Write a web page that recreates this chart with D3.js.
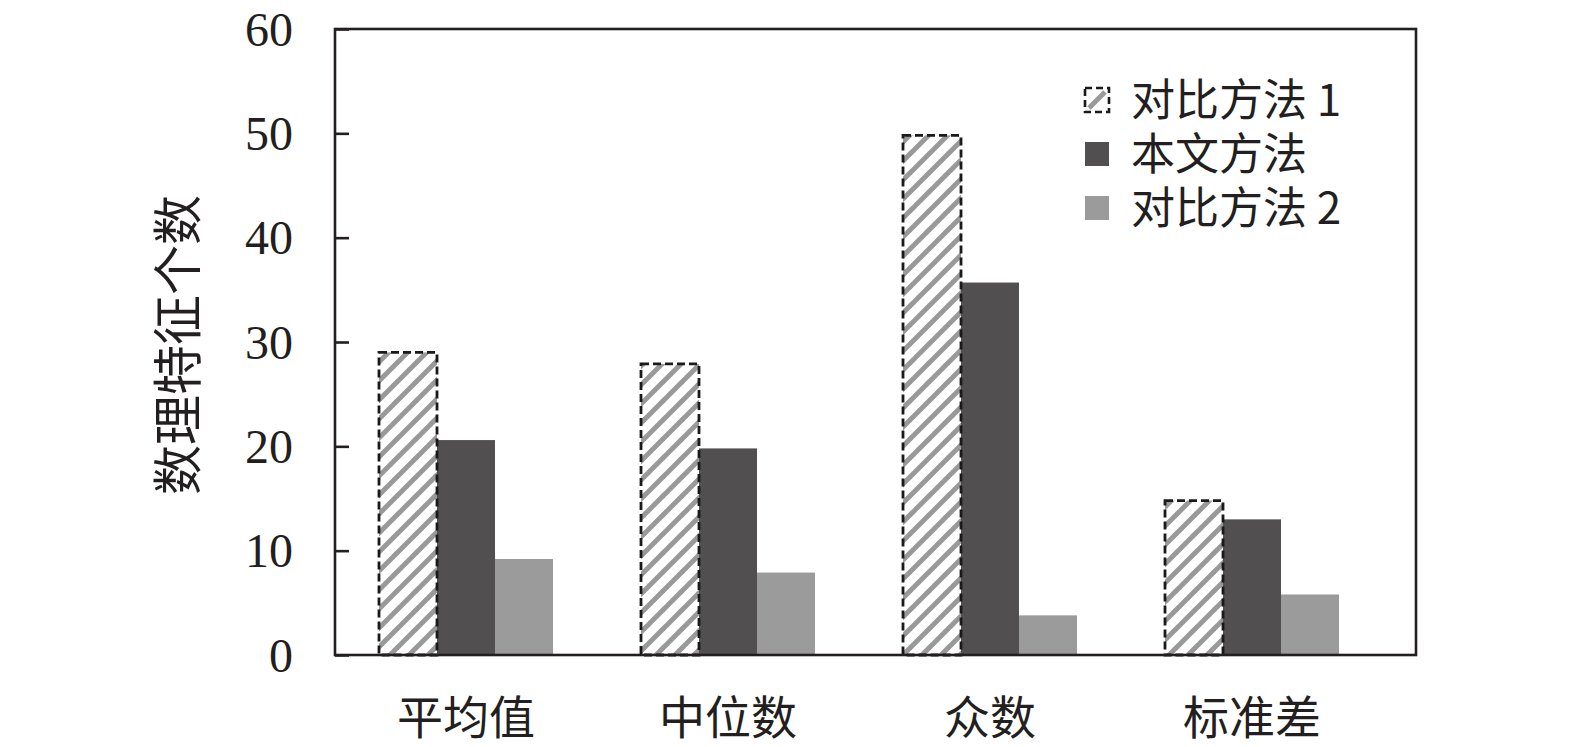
<!DOCTYPE html>
<html><head><meta charset="utf-8">
<script src="https://cdn.jsdelivr.net/npm/d3@7/dist/d3.min.js"></script>
<style>body{margin:0;background:#fff;}svg{display:block;}</style>
</head><body>
<svg id="c" width="1575" height="747"></svg>
<script>
const categories = ["平均值", "中位数", "众数", "标准差"];
const seriesNames = ["对比方法 1", "本文方法", "对比方法 2"];
const method1 = [29.0, 27.9, 49.8, 14.8];
const ours = [20.6, 19.8, 35.7, 13.0];
const method2 = [9.2, 7.9, 3.8, 5.8];
const yTicks = [0, 10, 20, 30, 40, 50, 60];
const yLabel = "数理特征个数";

const series = [method1, ours, method2];
const svg = d3.select("#c");
const frame = {left: 335, right: 1416, top: 29, bottom: 655};
const serif = "'Liberation Serif','Times New Roman',serif";
const cjk = "'Noto Sans CJK SC','Liberation Serif',serif";
const ink = "#231f20";

const defs = svg.append("defs");
const pat = defs.append("pattern").attr("id", "hatch").attr("patternUnits", "userSpaceOnUse")
  .attr("width", 19).attr("height", 19);
pat.append("rect").attr("width", 19).attr("height", 19).attr("fill", "#fff");
[[-1, 20, 20, -1], [-10, 10, 10, -10], [9, 29, 29, 9]].forEach(p => {
  pat.append("line").attr("x1", p[0]).attr("y1", p[1]).attr("x2", p[2]).attr("y2", p[3])
    .attr("stroke", "#999999").attr("stroke-width", 5);
});

const y = d3.scaleLinear().domain([0, 60]).range([frame.bottom, frame.top]);
const x0 = d3.scaleBand().domain(categories).range([335, 1383]).paddingInner(0).paddingOuter(0);
const x1 = d3.scaleBand().domain(d3.range(3)).range([-87, 87]);

const fills = ["url(#hatch)", "#514f50", "#9b9b9b"];

const g = svg.append("g");
categories.forEach((cat, i) => {
  const cx = x0(cat) + x0.bandwidth() / 2;
  [2, 1, 0].forEach(s => {
    const v = series[s][i];
    const bx = cx + x1(s);
    const r = g.append("rect").attr("x", bx).attr("y", y(v))
      .attr("width", x1.bandwidth()).attr("height", y(0) - y(v))
      .attr("fill", fills[s]);
    if (s === 0) {
      r.attr("stroke", "#1a1a1a").attr("stroke-width", 2.8).attr("stroke-dasharray", "8,4");
    }
  });
});

// frame
svg.append("rect").attr("x", frame.left).attr("y", frame.top)
  .attr("width", frame.right - frame.left).attr("height", frame.bottom - frame.top)
  .attr("fill", "none").attr("stroke", ink).attr("stroke-width", 2.6);

// y axis with inward ticks
const yAxis = d3.axisLeft(y).tickValues(yTicks).tickSize(-14).tickPadding(42).tickFormat(d3.format("d"));
const ya = svg.append("g").attr("transform", `translate(${frame.left},0)`).call(yAxis);
ya.select(".domain").remove();
ya.selectAll(".tick line").attr("stroke", ink).attr("stroke-width", 2.6);
ya.selectAll(".tick text").attr("font-family", serif).attr("font-size", 48).attr("fill", ink)
  .attr("dy", "0.34em");

// x axis labels (no ticks)
const xAxis = d3.axisBottom(x0).tickSize(0).tickPadding(46);
const xa = svg.append("g").attr("transform", `translate(0,${frame.bottom})`).call(xAxis);
xa.select(".domain").remove();
xa.selectAll(".tick text").attr("font-family", cjk).attr("font-size", 46).attr("fill", ink);

// y label
svg.append("text").attr("transform", `translate(196,345) rotate(-90)`)
  .attr("text-anchor", "middle").attr("font-family", cjk).attr("font-size", 50)
  .attr("fill", ink).text(yLabel);

// legend
const leg = svg.append("g").attr("transform", "translate(1085,100)");
seriesNames.forEach((n, i) => {
  const row = leg.append("g").attr("transform", `translate(0,${i * 54})`);
  const sw = row.append("rect").attr("x", 0).attr("y", -12).attr("width", 24).attr("height", 24);
  if (i === 0) {
    row.append("line").attr("x1", 4).attr("y1", 8).attr("x2", 20).attr("y2", -8)
      .attr("stroke", "#9a9a9a").attr("stroke-width", 5);
    sw.attr("fill", "none").attr("stroke", "#1a1a1a").attr("stroke-width", 2.6).attr("stroke-dasharray", "7,4");
  } else {
    sw.attr("fill", fills[i]);
  }
  row.append("text").attr("x", 46).attr("y", 0).attr("dy", "0.36em")
    .attr("font-family", cjk).attr("font-size", 44).attr("fill", ink).text(n);
});
</script>
</body></html>
